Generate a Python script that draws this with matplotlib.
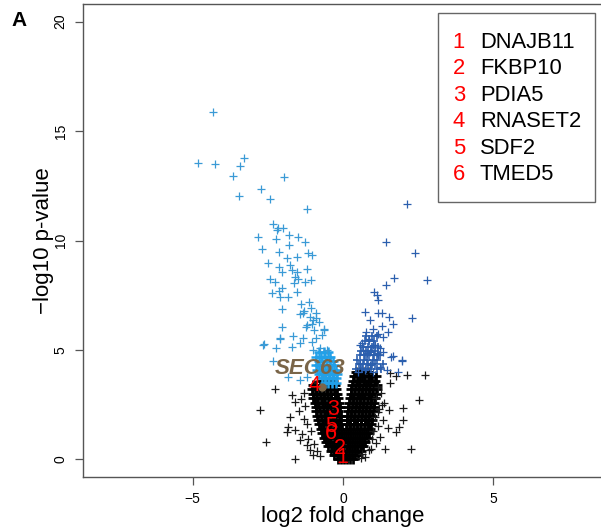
import matplotlib
matplotlib.use("Agg")
import matplotlib.pyplot as plt
from matplotlib.patches import Rectangle

plt.rcParams['font.family'] = ['Liberation Sans', 'DejaVu Sans']

# significant, down (light blue)
down_x = [-4.33, -4.81, -4.25, -3.30, -3.42, -3.66, -1.96, -2.71, -3.46, -2.43, -1.20,
          -2.34, -2.15, -1.98, -2.20, -2.81, -1.78, -1.49, -1.26, -2.23, -2.68, -1.78,
          -2.12, -1.15, -1.04, -1.85, -1.54, -2.48, -2.12, -1.77, -1.21, -2.04, -1.70,
          -1.54, -2.43, -2.27, -1.59, -1.49, -1.26, -1.07, -1.62, -2.04, -2.12, -2.37,
          -1.54, -2.09, -1.82, -1.13, -1.41, -2.02, -1.31, -1.43, -0.90, -1.10, -0.99,
          -1.04, -0.63, -2.02, -1.23, -0.97, -2.10, -1.65, -1.32, -0.90, -1.33, -1.19,
          -0.62, -2.09, -2.61, -2.24, -1.43, -1.70, -1.04, -2.32, -0.99, -0.76, -0.54,
          -2.65, -1.82, -1.43, -1.21, -0.88, -1.05, -0.80, -0.70]
down_y = [15.85, 13.52, 13.48, 13.77, 13.39, 12.94, 12.88, 12.34, 12.02, 11.89, 11.46,
          10.74, 10.58, 10.55, 10.50, 10.17, 10.24, 10.14, 9.94, 10.05, 9.63, 9.79,
          9.48, 9.41, 9.33, 9.22, 9.25, 8.98, 8.80, 8.87, 8.68, 8.57, 8.64,
          8.57, 8.22, 8.11, 8.34, 8.22, 8.11, 8.19, 8.04, 7.81, 7.70, 7.61,
          7.65, 7.40, 7.43, 7.20, 7.12, 6.85, 6.79, 6.63, 6.67, 6.51, 6.36,
          6.21, 5.94, 6.03, 6.05, 5.90, 5.57, 5.63, 5.57, 5.57, 6.67, 6.13,
          5.90, 5.52, 5.26, 5.10, 5.30, 5.14, 5.37, 4.50, 4.99, 5.07, 4.99,
          5.22, 3.77, 3.62, 3.77, 6.45, 6.90, 6.30, 5.70]

# dense light blue patch just above the threshold
blob_y = [3.5, 3.7, 3.9, 4.1, 4.3, 4.5, 4.7, 4.9]
blob_x = [[-0.60, -0.48, -0.36, -0.24],
          [-0.70, -0.58, -0.46, -0.34, -0.22],
          [-0.80, -0.68, -0.56, -0.44, -0.32, -0.20],
          [-0.85, -0.72, -0.60, -0.48, -0.36, -0.24],
          [-0.90, -0.78, -0.66, -0.54, -0.42, -0.30],
          [-0.80, -0.68, -0.56, -0.44, -0.32],
          [-0.90, -0.72, -0.58, -0.44],
          [-0.80, -0.62, -0.48]]

# significant, up (dark blue)
up_x = [2.12, 1.42, 2.39, 1.69, 2.81, 1.42, 1.04, 1.14, 1.18, 0.75, 1.18, 1.29, 1.54,
        2.30, 0.90, 1.65, 1.29, 1.01, 0.76, 1.50, 1.18, 1.34, 0.87, 0.56, 1.01, 1.23,
        0.67, 0.90, 1.12, 1.34, 1.67, 0.62, 1.06, 0.79, 1.18, 1.61, 1.95, 0.56, 0.90,
        1.23, 1.45, 1.84, 0.51, 0.73, 1.01, 1.98]
up_y = [11.69, 9.94, 9.45, 8.31, 8.19, 7.99, 7.65, 7.50, 7.27, 6.74, 6.69, 6.69, 6.51,
        6.44, 6.39, 6.21, 6.09, 5.98, 5.83, 5.83, 5.72, 5.60, 5.48, 5.22, 5.22, 5.11,
        4.99, 4.91, 4.84, 4.91, 4.72, 5.30, 5.22, 4.84, 4.76, 4.69, 4.50, 4.38, 4.31,
        4.23, 4.08, 4.00, 4.00, 4.08, 4.00, 4.53]

upblob_y = [4.15, 4.35, 4.55, 4.75, 4.95, 5.15, 5.4, 5.65]
upblob_x = [[0.45, 0.62, 0.78, 0.93, 1.12, 1.27],
            [0.52, 0.66, 0.84, 0.97, 1.08, 1.33],
            [0.48, 0.69, 0.81, 0.99, 1.14],
            [0.57, 0.72, 0.88, 1.03, 1.22],
            [0.61, 0.77, 0.92, 1.07],
            [0.66, 0.83, 0.97, 1.16],
            [0.72, 0.88, 1.04],
            [0.78, 0.96, 1.12]]

# not significant, scattered
ns_x = [2.12, 2.72, 1.56, 2.52, 1.54, 2.00, 2.00, 1.34, 1.50, 1.88, 1.77, 1.23, 1.39,
        2.25, 0.92, 0.73, 1.29, 1.18, 1.56, 1.75,
        -2.26, -2.76, -2.56, -1.59, -1.70, -1.59, -1.77, -1.82, -1.59, -1.87, -1.43,
        -1.21, -1.10, -1.30, -1.40, -1.25, -1.45, -1.30, -1.20, -1.35, -1.05, -1.15,
        -0.95, -0.85, -1.00, -0.75, 1.15, 1.25, 1.10, 1.35, 1.20, 1.05, 1.15, 1.00,
        0.95, 1.10, 0.85, 0.65, 0.60]
ns_y = [3.85, 3.85, 3.47, 2.71, 2.25, 2.33, 1.79, 1.79, 1.42, 1.49, 1.26, 1.03, 0.50,
        0.50, 0.50, 0.12, 2.48, 2.17, 3.94, 3.80,
        3.20, 2.25, 0.80, 0.03, 2.94, 2.63, 1.95, 1.49, 1.34, 1.26, 0.88,
        0.65, 0.42, 3.05, 2.75, 2.45, 2.20, 1.85, 1.60, 1.15, 1.30, 0.95,
        0.70, 0.40, 0.20, 0.15, 3.30, 3.05, 2.80, 2.60, 2.30, 1.95, 1.55, 1.30,
        0.95, 0.75, 0.45, 0.25, 0.05]

# not significant, dense V-shaped core (rows)
core_y = [0.0, 0.2, 0.4, 0.6, 0.8, 1.0, 1.2, 1.4, 1.6, 1.8, 2.0, 2.2, 2.4, 2.6, 2.8,
          3.0, 3.2, 3.4, 3.6, 3.8, 4.0]
core_x = [
    [-0.15, -0.05, 0.05, 0.15, 0.25, 0.35],
    [-0.30, -0.20, -0.10, 0.00, 0.10, 0.20, 0.30, 0.40, 0.50],
    [-0.40, -0.30, -0.20, -0.10, 0.00, 0.10, 0.20, 0.30, 0.40, 0.50, 0.60],
    [-0.48, -0.36, -0.24, -0.12, 0.00, 0.12, 0.24, 0.36, 0.48, 0.60, 0.68],
    [-0.55, -0.43, -0.31, -0.19, -0.07, 0.05, 0.17, 0.29, 0.41, 0.53, 0.65, 0.75],
    [-0.62, -0.50, -0.38, -0.26, -0.14, -0.02, 0.10, 0.22, 0.34, 0.46, 0.58, 0.70, 0.82],
    [-0.68, -0.56, -0.44, -0.32, -0.20, -0.08, 0.04, 0.16, 0.28, 0.40, 0.52, 0.64, 0.76, 0.86],
    [-0.74, -0.62, -0.50, -0.38, -0.26, -0.14, -0.02, 0.10, 0.22, 0.34, 0.46, 0.58, 0.70, 0.82, 0.90],
    [-0.78, -0.66, -0.54, -0.42, -0.30, -0.18, -0.06, 0.12, 0.24, 0.36, 0.48, 0.60, 0.72, 0.84, 0.94],
    [-0.82, -0.70, -0.58, -0.46, -0.34, -0.22, -0.10, 0.12, 0.24, 0.36, 0.48, 0.60, 0.72, 0.84, 0.96],
    [-0.85, -0.73, -0.61, -0.49, -0.37, -0.25, -0.13, -0.05, 0.14, 0.26, 0.38, 0.50, 0.62, 0.74, 0.86, 0.98],
    [-0.88, -0.76, -0.64, -0.52, -0.40, -0.28, -0.16, 0.16, 0.28, 0.40, 0.52, 0.64, 0.76, 0.88, 1.00],
    [-0.90, -0.78, -0.66, -0.54, -0.42, -0.30, -0.18, -0.10, 0.18, 0.30, 0.42, 0.54, 0.66, 0.78, 0.90, 1.02],
    [-0.94, -0.82, -0.70, -0.58, -0.46, -0.34, -0.22, -0.14, 0.20, 0.32, 0.44, 0.56, 0.68, 0.80, 0.92, 1.04],
    [-0.98, -0.86, -0.74, -0.62, -0.50, -0.38, -0.26, -0.18, 0.22, 0.34, 0.46, 0.58, 0.70, 0.82, 0.94, 1.06],
    [-1.00, -0.88, -0.76, -0.64, -0.52, -0.40, -0.28, -0.20, 0.26, 0.38, 0.50, 0.62, 0.74, 0.86, 0.98, 1.10],
    [-1.02, -0.90, -0.78, -0.66, -0.54, -0.42, -0.30, -0.22, 0.28, 0.40, 0.52, 0.64, 0.76, 0.88, 1.00, 1.12],
    [-1.00, -0.88, -0.76, -0.64, -0.52, -0.40, -0.28, 0.30, 0.42, 0.54, 0.66, 0.78, 0.90, 1.02, 1.12],
    [-0.70, -0.58, -0.46, -0.34, 0.34, 0.46, 0.58, 0.70, 0.82, 0.94, 1.06],
    [0.38, 0.50, 0.62, 0.74, 0.86, 0.98, 1.10],
    [0.42, 0.56, 0.70, 0.84]]

# labelled genes
gene_names = ["DNAJB11", "FKBP10", "PDIA5", "RNASET2", "SDF2", "TMED5"]
gene_x = [-0.03, -0.10, -0.33, -0.96, -0.40, -0.40]
gene_y = [0.10, 0.52, 2.26, 3.39, 1.52, 1.20]
hit_name = "SEC63"
hit_x = -0.70
hit_y = 3.30
hit_label_dx = -0.40
hit_label_dy = 0.87

light_blue = "#3a9ad6"
dark_blue = "#2b5fae"
brown = "#7a6548"

fig = plt.figure(figsize=(6.01, 5.32), dpi=100)
ax = fig.add_axes([0.1381, 0.1034, 0.865, 0.889])

mk = dict(marker="+", linestyle="none", markersize=5.8, markeredgewidth=0.9)

cx = [x for row in core_x for x in row]
cy = [y for y, row in zip(core_y, core_x) for _ in row]
ax.plot(cx, cy, color="black", marker="+", linestyle="none", markersize=7.5,
        markeredgewidth=2.0)
ax.plot(ns_x, ns_y, color="#1a1a1a", **mk)

bx = [x for row in blob_x for x in row]
by = [y for y, row in zip(blob_y, blob_x) for _ in row]
ax.plot(bx, by, color="#22a0e8", marker="+", linestyle="none", markersize=7,
        markeredgewidth=1.8)
ax.plot(down_x, down_y, color=light_blue, **mk)

ux = [x for row in upblob_x for x in row]
uy = [y for y, row in zip(upblob_y, upblob_x) for _ in row]
ax.plot(ux, uy, color=dark_blue, marker="+", linestyle="none", markersize=6.2,
        markeredgewidth=1.2)
ax.plot(up_x, up_y, color=dark_blue, **mk)

ax.plot([hit_x], [hit_y], "o", color=brown, markersize=5)
ax.text(hit_x + hit_label_dx, hit_y + hit_label_dy, hit_name, color=brown,
        fontsize=16, fontweight="bold", fontstyle="italic", ha="center", va="center")

for i, (gx, gy) in enumerate(zip(gene_x, gene_y)):
    ax.text(gx, gy, str(i + 1), color="red", fontsize=15.5, ha="center", va="center")

ax.set_xlim(-8.64, 8.64)
ax.set_ylim(-0.8, 20.8)
ax.set_xticks([-5, 0, 5])
ax.set_yticks([0, 5, 10, 15, 20])
ax.tick_params(direction="out", length=6, width=0.9, color="#555555",
               labelsize=10, pad=5)
for lab in ax.get_yticklabels():
    lab.set_rotation(90)
    lab.set_va("center")
for s in ax.spines.values():
    s.set_color("#555555")
    s.set_linewidth(1.0)

ax.set_xlabel("log2 fold change", fontsize=16, labelpad=0)
ax.set_ylabel("\u2212log10 p-value", fontsize=16, labelpad=0)

# legend box
fig.patches.append(Rectangle((0.7288, 0.6203), 0.2612, 0.3553, transform=fig.transFigure,
                             fill=False, edgecolor="#666666", linewidth=1.0))
row_top = 1 - 42 / 532
row_step = 26.6 / 532
for i, name in enumerate(gene_names):
    yy = row_top - i * row_step
    fig.text(459 / 601, yy, str(i + 1), color="red", fontsize=15.8, ha="center", va="center")
    fig.text(480 / 601, yy, name, color="black", fontsize=15.8, ha="left", va="center")

fig.text(19 / 601, 1 - 21 / 532, "A", fontsize=15, fontweight="bold", ha="center", va="center")

fig.savefig("out.png", dpi=100)
